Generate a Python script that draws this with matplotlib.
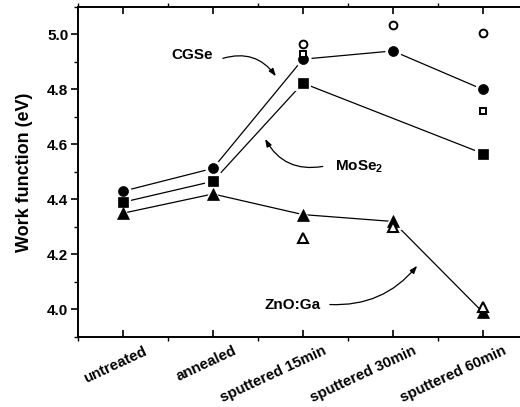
import numpy as np
import matplotlib
matplotlib.use("Agg")
import matplotlib.pyplot as plt
from matplotlib.transforms import ScaledTranslation

plt.rcParams['font.family'] = ['Liberation Sans', 'DejaVu Sans']
plt.rcParams['font.weight'] = 'bold'
plt.rcParams['mathtext.fontset'] = 'custom'
plt.rcParams['mathtext.rm'] = 'Liberation Sans:bold'
plt.rcParams['mathtext.bf'] = 'Liberation Sans:bold'

# Treatment steps
categories = ['untreated', 'annealed', 'sputtered 15min', 'sputtered 30min', 'sputtered 60min']

# Work function (eV) – filled symbols, connected
cgse = [4.43, 4.513, 4.91, 4.94, 4.80]
mose2 = [4.39, 4.466, 4.823, np.nan, 4.567]
zno = [4.35, 4.42, 4.345, 4.32, 3.99]

# Work function (eV) – open symbols, second measurement
cgse_open = [np.nan, np.nan, 4.967, 5.036, 5.004]
mose2_open = [np.nan, np.nan, 4.93, np.nan, 4.72]
zno_open = [np.nan, np.nan, 4.26, 4.30, 4.01]

fig = plt.figure(figsize=(5.2, 4.07), dpi=100)
ax = fig.add_axes([0.15, 0.172, 0.865, 0.811])

x = np.arange(len(categories))

filled = [(cgse, 'o', 7.2), (mose2, 's', 7.0), (zno, '^', 8.5)]
for vals, mk, ms in filled:
    v = np.asarray(vals, dtype=float)
    m = ~np.isnan(v)
    ax.plot(x[m], v[m], '-', color='black', lw=0.9, zorder=2)
    # white halo so the connecting line stops short of each symbol
    ax.plot(x[m], v[m], ls='none', marker=mk, ms=ms + 4.5, mfc='white', mec='white',
            mew=0, zorder=2.5)
    ax.plot(x[m], v[m], ls='none', marker=mk, ms=ms, mfc='black', mec='black',
            mew=0.5, zorder=3)

opened = [(cgse_open, 'o', 5.6, 1.4), (mose2_open, 's', 4.6, 1.4), (zno_open, '^', 7.2, 1.5)]
for vals, mk, ms, mew in opened:
    v = np.asarray(vals, dtype=float)
    m = ~np.isnan(v)
    ax.plot(x[m], v[m], ls='none', marker=mk, ms=ms, mfc='white', mec='black',
            mew=mew, zorder=4)

ax.set_xlim(-0.5, 4.5)
ax.set_ylim(3.9, 5.1)
ax.set_xticks(x)
ax.set_xticks(np.arange(-0.5, 4.6, 1.0), minor=True)
ax.set_yticks(np.arange(4.0, 5.01, 0.2))
ax.set_yticks(np.arange(3.9, 5.11, 0.1), minor=True)
ax.yaxis.set_major_formatter(matplotlib.ticker.FormatStrFormatter('%.1f'))

ax.tick_params(axis='x', which='major', direction='in', top=True, bottom=True,
               length=5, width=1.2, pad=5)
ax.tick_params(axis='x', which='minor', direction='out', top=True, bottom=True,
               length=3, width=1.0)
ax.tick_params(axis='y', which='major', direction='out', length=5, width=1.2, pad=2)
ax.tick_params(axis='y', which='minor', direction='out', length=3, width=1.0)
for sp in ax.spines.values():
    sp.set_linewidth(1.4)

ax.set_xticklabels(categories, rotation=25, ha='right', va='top',
                   rotation_mode='anchor', fontsize=10.8, fontweight='bold')
shift = ScaledTranslation(20 / 100, 0, fig.dpi_scale_trans)
for lbl in ax.xaxis.get_majorticklabels():
    lbl.set_transform(lbl.get_transform() + shift)
for lbl in ax.get_yticklabels():
    lbl.set_fontsize(11)
    lbl.set_fontweight('bold')

ax.set_ylabel('Work function (eV)', fontsize=13, fontweight='bold', labelpad=10)

# Labels with curved pointer arrows
arrow = dict(arrowstyle='-|>,head_length=0.45,head_width=0.16', color='black', lw=0.9,
             shrinkA=0, shrinkB=0)

ax.text(0.77, 4.924, 'CGSe', fontsize=11, fontweight='bold', ha='center', va='center')
ax.annotate('', xy=(1.70, 4.848), xytext=(1.11, 4.913),
            arrowprops=dict(arrow, connectionstyle='arc3,rad=-0.35'))

ax.text(2.63, 4.52, r'$\mathbf{MoSe_2}$', fontsize=11, ha='center', va='center')
ax.annotate('', xy=(1.58, 4.62), xytext=(2.22, 4.52),
            arrowprops=dict(arrow, connectionstyle='arc3,rad=-0.35'))

ax.text(1.89, 4.015, 'ZnO:Ga', fontsize=11, fontweight='bold', ha='center', va='center')
ax.annotate('', xy=(3.27, 4.159), xytext=(2.30, 4.018),
            arrowprops=dict(arrow, connectionstyle='arc3,rad=0.25'))

fig.savefig('out.png', dpi=100)
